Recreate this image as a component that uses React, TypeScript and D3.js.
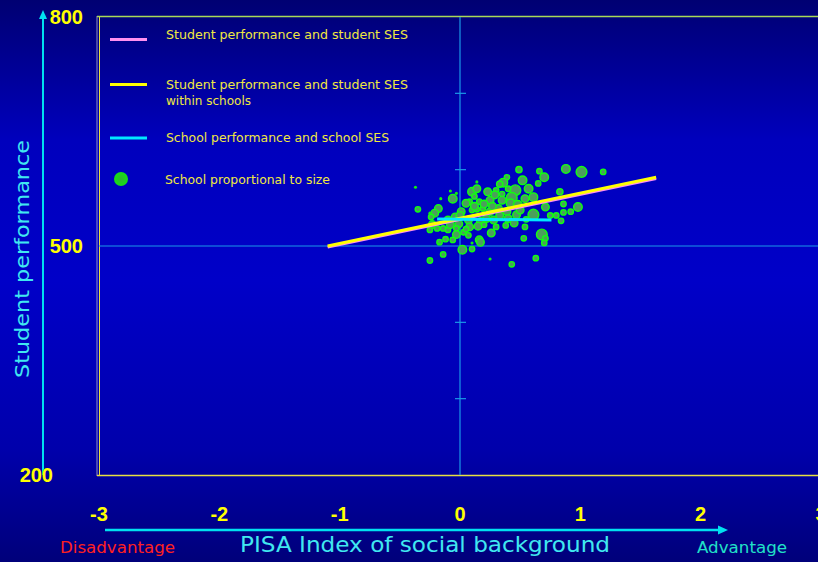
import React, { useEffect } from 'react';
import * as d3 from 'd3';

// PISA index (x), mean school performance (y), sampled students (size)
const schoolSes = [0.49, 0.66, 0.88, 1.01, 1.19, 0.70, 0.39, 0.52, 0.36, 0.14, 0.65, -0.37, -0.08, -0.03, 0.10, 0.14, 0.23, 0.30, 0.33, 0.46, 0.57, 0.83, -0.06, -0.16, 0.08, 0.16, 0.25, 0.29, 0.35, 0.43, 0.54, 0.61, 0.42, 0.48, 0.71, 0.86, 0.98, -0.35, -0.18, -0.21, -0.25, -0.24, 0.01, 0.10, 0.14, 0.19, 0.25, 0.32, 0.39, 0.47, 0.61, 0.75, 0.80, 0.86, 0.92, 0.84, -0.10, -0.04, 0.07, 0.17, 0.22, 0.28, -0.01, -0.23, -0.19, -0.14, -0.25, -0.10, -0.03, 0.08, 0.15, 0.30, 0.38, 0.54, 0.26, -0.03, 0.03, 0.07, 0.68, 0.71, 0.53, -0.06, -0.12, -0.17, -0.18, 0.16, 0.17, 0.70, 0.10, 0.02, 0.10, -0.14, -0.25, 0.25, 0.63, 0.43,
  0.05, 0.12, 0.20, 0.27, 0.33, 0.40, 0.45, 0.50, 0.55, 0.20, -0.08, 0.00, 0.35, 0.12, 0.40, 0.05];
const schoolScore = [600, 598, 601, 597, 597, 590, 590, 586, 583, 584, 582, 577, 572, 569, 571, 575, 571, 573, 581, 573, 575, 571, 562, 562, 558, 558, 560, 567, 568, 563, 562, 564, 556, 554, 551, 555, 551, 548, 549, 543, 543, 538, 545, 547, 548, 549, 545, 549, 545, 541, 541, 540, 540, 544, 545, 533, 534, 538, 534, 532, 536, 534, 529, 528, 523, 523, 521, 521, 523, 525, 526, 525, 527, 525, 517, 515, 518, 514, 515, 510, 510, 508, 509, 505, 503, 508, 505, 504, 504, 495, 496, 489, 481, 483, 484, 476,
  556, 552, 555, 552, 540, 536, 530, 547, 535, 528, 528, 540, 560, 565, 575, 522];
const schoolSize = [20, 15, 38, 60, 15, 38, 15, 38, 38, 5, 15, 5, 5, 5, 38, 30, 30, 15, 20, 60, 38, 20, 38, 5, 15, 15, 30, 30, 15, 60, 30, 38, 38, 38, 30, 15, 38, 15, 30, 30, 5, 15, 30, 15, 15, 15, 30, 30, 30, 30, 60, 15, 15, 15, 15, 15, 30, 30, 30, 30, 30, 30, 30, 30, 15, 15, 15, 15, 15, 30, 30, 15, 15, 15, 30, 30, 15, 15, 60, 15, 15, 15, 15, 15, 5, 30, 30, 15, 5, 38, 15, 15, 15, 5, 15, 15,
  30, 30, 30, 30, 30, 30, 30, 30, 15, 15, 30, 30, 30, 15, 15, 15];

// regression lines: [ses, score] end points
const overallLine: [number, number][] = [[-1.1, 498.5], [1.63, 588.5]];
const withinLine: [number, number][] = [[-1.1, 500], [1.63, 590]];
const betweenLine: [number, number][] = [[-0.19, 535.5], [0.76, 534]];

const xTicks = [-3, -2, -1, 0, 1, 2, 3];
const yLabels = [800, 500, 200];
const yMinorTicks = [300, 400, 600, 700];

const legendLabels = [
  ['Student performance and student SES'],
  ['Student performance and student SES', 'within schools'],
  ['School performance and school SES'],
  ['School proportional to size'],
];
const legendWidths = [[242], [242, 85], [223], [165]];

const W = 818;
const H = 562;
const txtFont = '"DejaVu Sans", sans-serif';
const numFont = '"Liberation Sans", Arial, sans-serif';

export default function App() {
  useEffect(() => {
    document.body.style.margin = '0';
  }, []);

  const x = d3.scaleLinear().domain([-3, 3]).range([99, 821]);
  const y = d3.scaleLinear().domain([200, 800]).range([475, 17]);
  const r = d3.scaleSqrt().domain([0, 60]).range([0, 5.4]);
  const line = d3.line<[number, number]>().x(d => x(d[0])).y(d => y(d[1]));

  const pts = schoolSes.map((s, i) => ({ s, v: schoolScore[i], n: schoolSize[i] }));

  return (
    <svg width={W} height={H} style={{ display: 'block' }}>
      <defs>
        <linearGradient id="bg" x1="0" y1="0" x2="0" y2="1">
          <stop offset="0" stopColor="#000072" />
          <stop offset="0.25" stopColor="#0000bd" />
          <stop offset="0.5" stopColor="#0000c8" />
          <stop offset="0.8" stopColor="#0000ab" />
          <stop offset="1" stopColor="#00007a" />
        </linearGradient>
        <radialGradient id="dot">
          <stop offset="0" stopColor="#2fb82f" />
          <stop offset="1" stopColor="#14e014" />
        </radialGradient>
      </defs>
      <rect width={W} height={H} fill="url(#bg)" />

      {/* plot frame */}
      <line x1={97} x2={97} y1={16} y2={476} stroke="#9090c0" strokeWidth={1} />
      <line x1={99.5} x2={99.5} y1={17} y2={475} stroke="#e8e040" strokeWidth={1} />
      <line x1={97} x2={W} y1={16.5} y2={16.5} stroke="#a8d858" strokeWidth={1.5} />
      <line x1={97} x2={W} y1={475.5} y2={475.5} stroke="#e8e040" strokeWidth={1.5} />

      {/* reference lines */}
      <line x1={x(0)} x2={x(0)} y1={y(800)} y2={y(200)} stroke="#1a98e8" strokeWidth={1.2} />
      <line x1={x(-3)} x2={W} y1={y(500)} y2={y(500)} stroke="#1a98e8" strokeWidth={1.2} />
      {yMinorTicks.map(t => (
        <line key={t} x1={x(0) - 5} x2={x(0) + 6} y1={y(t)} y2={y(t)} stroke="#1a98e8" strokeWidth={1.2} />
      ))}

      {/* schools */}
      {pts.map((p, i) => (
        <circle key={i} cx={x(p.s)} cy={y(p.v)} r={r(p.n)}
          fill={p.n <= 5 ? '#10f010' : '#4c9e5c'}
          stroke="#10ff10" strokeWidth={p.n <= 5 ? 0 : 1.4} />
      ))}

      {/* regression lines */}
      <path d={line(overallLine) || undefined} stroke="#ff90f0" strokeWidth={3} fill="none" />
      <path d={line(withinLine) || undefined} stroke="#ffff00" strokeWidth={3} fill="none" />
      <path d={line(betweenLine) || undefined} stroke="#00e8ff" strokeWidth={3} fill="none" />

      {/* legend */}
      <g fontFamily={txtFont} fontSize={12} fill="#f0e840">
        <line x1={110} x2={147} y1={39.5} y2={39.5} stroke="#ff90f0" strokeWidth={3} />
        <line x1={110} x2={147} y1={84.5} y2={84.5} stroke="#ffff00" strokeWidth={3} />
        <line x1={110} x2={147} y1={138} y2={138} stroke="#00e8ff" strokeWidth={3} />
        <circle cx={121} cy={179} r={7} fill="url(#dot)" />
        {legendLabels.map((lines, i) => {
          const ty = [39, 89, 142, 184][i];
          return lines.map((t, j) => (
            <text key={i + '-' + j} x={i === 3 ? 165 : 166} y={ty + j * 16}
              textLength={legendWidths[i][j]} lengthAdjust="spacingAndGlyphs">{t}</text>
          ));
        })}
      </g>

      {/* y axis */}
      <line x1={43} x2={43} y1={475} y2={18} stroke="#00e0f0" strokeWidth={2} />
      <path d="M39,19 L43,10 L47,19 Z" fill="#00e0f0" />
      <g fontFamily={numFont} fontWeight="bold" fontSize={20} fill="#ffff00">
        {yLabels.map(v => (
          <text key={v} x={v === 200 ? 53 : 83} y={y(v) + 7} textAnchor="end">{v}</text>
        ))}
      </g>
      <text transform="translate(29,259) rotate(-90)" textAnchor="middle" fontFamily={txtFont}
        fontSize={20} fill="#40e8f0" textLength={238} lengthAdjust="spacingAndGlyphs">Student performance</text>

      {/* x axis */}
      <g fontFamily={numFont} fontWeight="bold" fontSize={20} fill="#ffff00">
        {xTicks.map(v => (
          <text key={v} x={x(v)} y={521} textAnchor="middle">{v}</text>
        ))}
      </g>
      <line x1={105} x2={720} y1={530} y2={530} stroke="#00e0f0" strokeWidth={2.5} />
      <path d="M718,525.5 L728,530 L718,534.5 Z" fill="#00e0f0" />
      <text x={60} y={553} fontFamily={txtFont} fontSize={15} fill="#ff2020"
        textLength={115} lengthAdjust="spacingAndGlyphs">Disadvantage</text>
      <text x={240} y={552} fontFamily={txtFont} fontSize={21} fill="#40e8f0"
        textLength={370} lengthAdjust="spacingAndGlyphs">PISA Index of social background</text>
      <text x={697} y={553} fontFamily={txtFont} fontSize={15} fill="#20e0c8"
        textLength={90} lengthAdjust="spacingAndGlyphs">Advantage</text>
    </svg>
  );
}
